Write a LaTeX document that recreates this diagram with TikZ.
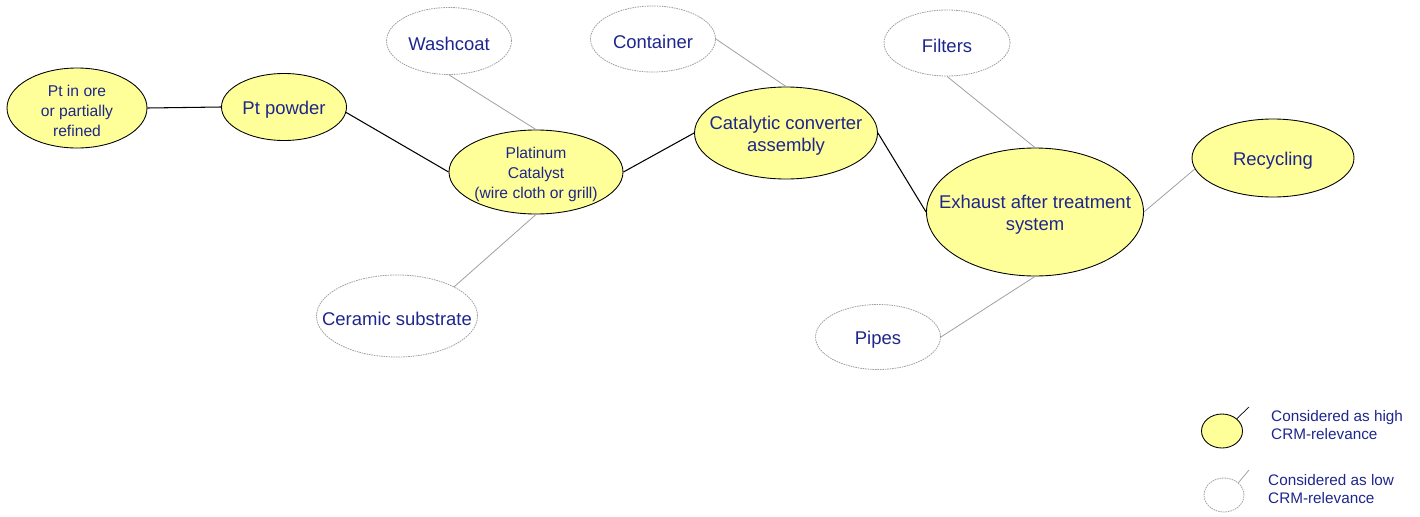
\documentclass[tikz,border=0pt]{standalone}
\usepackage{fontspec}
\setmainfont{Liberation Sans}
\usepackage{xcolor}
\usepackage{tikz}
\usetikzlibrary{shapes.geometric}
\definecolor{crmblue}{RGB}{30, 38, 140}
\definecolor{crmyellow}{RGB}{255, 255, 153}

\begin{document}
\begin{tikzpicture}[
    high/.style={ellipse, draw=black, line width=0.5pt, fill=crmyellow, inner sep=0pt},
    low/.style={ellipse, draw=gray!75, line width=0.45pt, dash pattern=on 0.9pt off 0.5pt, inner sep=0pt},
    crmtext/.style={text=crmblue, align=center, yshift=-0.05cm, font=\fontsize{10.5}{12.5}\selectfont},
    small/.style={font=\fontsize{8.9}{11.4}\selectfont},
    strong/.style={draw=black, line width=0.6pt},
    weak/.style={draw=gray!75, line width=0.45pt},
    legtext/.style={anchor=west, text=crmblue, align=left, font=\fontsize{8.7}{10.3}\selectfont}
  ]

  \useasboundingbox (0,0) rectangle (28.4,10.32);

  % --- Cadeia principal (relevância alta) ---
  \node[high, minimum width=2.8cm, minimum height=1.6cm,
    label={[crmtext, small]center:{Pt in ore\\or partially\\refined}}] (ore) at (1.54, 8.16) {};
  \node[high, minimum width=2.5cm, minimum height=1.34cm,
    label={[crmtext]center:Pt powder}] (powder) at (5.68, 8.18) {};
  \node[high, minimum width=3.48cm, minimum height=1.68cm,
    label={[crmtext, small]center:{Platinum\\Catalyst\\(wire cloth or grill)}}] (catalyst) at (10.72, 6.88) {};
  \node[high, minimum width=3.66cm, minimum height=1.84cm,
    label={[crmtext]center:{Catalytic converter\\assembly}}] (converter) at (15.72, 7.66) {};
  \node[high, minimum width=4.34cm, minimum height=2.56cm,
    label={[crmtext]center:{Exhaust after treatment\\system}}] (exhaust) at (20.7, 6.08) {};
  \node[high, minimum width=3.24cm, minimum height=1.56cm,
    label={[crmtext]center:Recycling}] (recycling) at (25.46, 7.16) {};

  % --- Componentes (relevância baixa) ---
  \node[low, minimum width=2.5cm, minimum height=1.34cm,
    label={[crmtext]center:Washcoat}] (washcoat) at (8.98, 9.5) {};
  \node[low, minimum width=3.22cm, minimum height=1.64cm,
    label={[crmtext]center:Ceramic substrate}] (ceramic) at (7.94, 4.0) {};
  \node[low, minimum width=2.5cm, minimum height=1.32cm,
    label={[crmtext]center:Container}] (container) at (13.06, 9.54) {};
  \node[low, minimum width=2.52cm, minimum height=1.32cm,
    label={[crmtext]center:Filters}] (filters) at (18.94, 9.46) {};
  \node[low, minimum width=2.5cm, minimum height=1.3cm,
    label={[crmtext]center:Pipes}] (pipes) at (17.56, 3.58) {};

  % Ligações
  \draw[strong] (ore.east) -- (powder.west);
  \draw[strong] (powder.-5) -- (catalyst.west);
  \draw[strong] (catalyst.east) -- (converter.west);
  \draw[strong] (converter.east) -- (exhaust.west);
  \draw[weak] (exhaust.east) -- (recycling.188);
  \draw[weak] (washcoat.south) -- (catalyst.north);
  \draw[weak] (ceramic.north east) -- (catalyst.south);
  \draw[weak] (container.east) -- (converter.north);
  \draw[weak] (filters.south) -- (exhaust.north);
  \draw[weak] (exhaust.south) -- (pipes.east);

  % --- Legenda ---
  \node[high, minimum width=0.82cm, minimum height=0.68cm] (leghigh) at (24.44, 1.7) {};
  \node[low, minimum width=0.8cm, minimum height=0.68cm] (leglow) at (24.48, 0.42) {};
  \coordinate (leghightip) at (24.98, 2.18);
  \coordinate (leglowtip) at (24.98, 0.92);
  \draw[strong, line width=0.4pt] (leghigh.north east) -- (leghightip);
  \draw[weak] (leglow.north east) -- (leglowtip);
  \node[legtext] (leghightext) at (25.3, 1.82) {Considered as high\\CRM-relevance};
  \node[legtext] (leglowtext) at (25.24, 0.54) {Considered as low\\CRM-relevance};

\end{tikzpicture}
\end{document}
